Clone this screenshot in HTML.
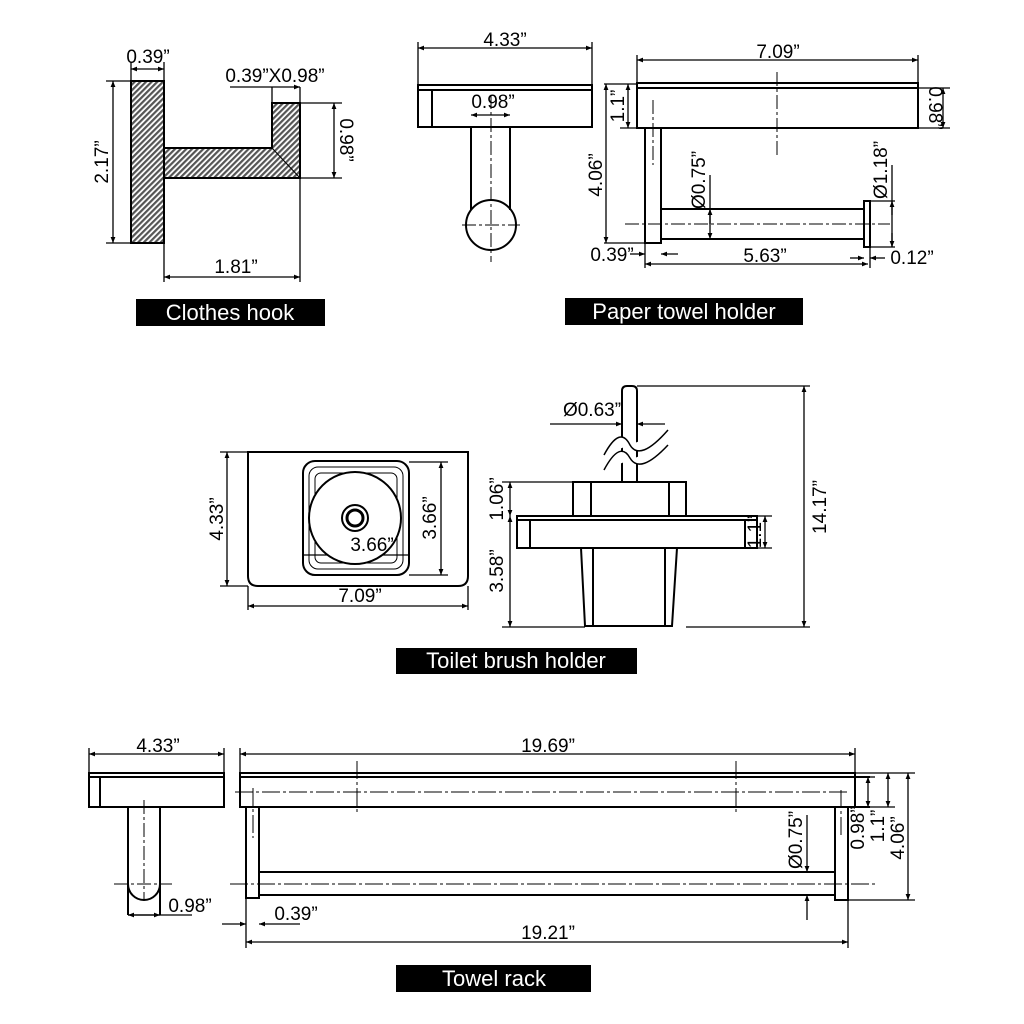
<!DOCTYPE html>
<html><head><meta charset="utf-8"><style>html,body{margin:0;padding:0;background:#fff}svg{display:block}</style></head><body>
<svg width="1024" height="1024" viewBox="0 0 1024 1024" xmlns="http://www.w3.org/2000/svg" font-family="Liberation Sans, Arial, sans-serif">
<defs>
<marker id="a" viewBox="0 0 10 10" refX="10" refY="5" markerWidth="10" markerHeight="6" orient="auto-start-reverse" markerUnits="userSpaceOnUse"><path d="M0,1 L10,5 L0,9 z" fill="#000"/></marker>
<pattern id="h" width="4" height="4" patternUnits="userSpaceOnUse" patternTransform="rotate(45)"><rect width="4" height="4" fill="#fff"/><rect width="2.2" height="4" fill="#555"/></pattern>
</defs>
<g fill="none" stroke="#000" stroke-width="2">
<rect x="131" y="81" width="33" height="162" fill="url(#h)"/>
<path d="M164,148 H272 V103 H300 V178 H164 Z" fill="url(#h)"/>
<path d="M272,148 L300,178" stroke-width="1"/>
<g stroke-width="1.3">
<path d="M131,62 V81 M164,62 V81"/><path d="M131,69 H164" marker-start="url(#a)" marker-end="url(#a)"/>
<path d="M230,87 H300" marker-end="url(#a)"/><path d="M272,87 V103 M300,87 V103"/>
<path d="M300,103 H342 M300,178 H342"/><path d="M334,103 V178" marker-start="url(#a)" marker-end="url(#a)"/>
<path d="M131,81 H106 M131,243 H106"/><path d="M113,81 V243" marker-start="url(#a)" marker-end="url(#a)"/>
<path d="M164,243 V282 M300,178 V282"/><path d="M164,277 H300" marker-start="url(#a)" marker-end="url(#a)"/>
</g>
<rect x="418" y="85" width="174" height="42"/><path d="M418,90 H592 M432,90 V127"/>
<path d="M471,127 V210 M510,127 V210"/><circle cx="491" cy="225" r="25"/>
<path d="M491,95 V262 M462,225 H520" stroke-width="1" stroke-dasharray="14,3,3,3"/>
<g stroke-width="1.3"><path d="M418,42 V85 M592,42 V85"/><path d="M418,48 H592" marker-start="url(#a)" marker-end="url(#a)"/>
<path d="M471,115 H510" marker-start="url(#a)" marker-end="url(#a)"/></g>
<rect x="637" y="83" width="281" height="45"/><path d="M637,88 H918"/>
<path d="M645,128 V243 H661 V128"/>
<rect x="661" y="209" width="203" height="30"/>
<rect x="864" y="201" width="6" height="46"/>
<path d="M777,72 V158 M653,100 V165 M625,224 H890" stroke-width="1" stroke-dasharray="14,3,3,3"/>
<g stroke-width="1.3">
<path d="M637,55 V83 M918,55 V83"/><path d="M637,60 H918" marker-start="url(#a)" marker-end="url(#a)"/>
<path d="M604,84 H637 M620,128 H645"/><path d="M628,84 V128" marker-start="url(#a)" marker-end="url(#a)"/>
<path d="M606,84 V243" marker-start="url(#a)" marker-end="url(#a)"/><path d="M604,243 H645"/>
<path d="M918,88 H950 M918,128 H950"/><path d="M943,88 V128" marker-start="url(#a)" marker-end="url(#a)"/>
<path d="M870,201 H895 M870,247 H895"/><path d="M892,165 V247"/><path d="M892,215 V201" marker-end="url(#a)"/><path d="M892,233 V247" marker-end="url(#a)"/>
<path d="M710,175 V239" marker-end="url(#a)"/><path d="M710,224 V209" marker-end="url(#a)"/>
<path d="M645,243 V268 M870,247 V268"/><path d="M645,264 H868" marker-start="url(#a)" marker-end="url(#a)"/>
<path d="M630,254 H645" marker-end="url(#a)"/><path d="M678,254 H661" marker-end="url(#a)"/>
<path d="M850,258 H864" marker-end="url(#a)"/><path d="M885,258 H870" marker-end="url(#a)"/>
</g>
<path d="M248,452 H468 V576 Q468,586 458,586 H258 Q248,586 248,576 Z"/>
<rect x="303" y="461" width="106" height="114" rx="12"/>
<rect x="309" y="467" width="94" height="102" rx="9" stroke-width="1"/>
<rect x="315" y="473" width="82" height="90" rx="6" stroke-width="1"/>
<path d="M303,555 H409" stroke-width="1.2"/>
<circle cx="355" cy="518" r="46" fill="#fff"/>
<circle cx="355" cy="518" r="13"/><circle cx="355" cy="518" r="8" stroke-width="3"/>
<g stroke-width="1.3">
<path d="M220,452 H248 M220,586 H248"/><path d="M227,452 V586" marker-start="url(#a)" marker-end="url(#a)"/>
<path d="M248,586 V610 M468,586 V610"/><path d="M248,606 H468" marker-start="url(#a)" marker-end="url(#a)"/>
<path d="M409,462 H448 M409,575 H448"/><path d="M441,462 V575" marker-start="url(#a)" marker-end="url(#a)"/>
</g>
<path d="M622,482 V391 Q622,386 627,386 H632 Q637,386 637,391 V482"/>
<rect x="573" y="482" width="113" height="34"/><path d="M591,482 V516 M669,482 V516"/>
<rect x="517" y="516" width="240" height="32"/><path d="M517,520 H757 M530,520 V548 M745,520 V548"/>
<path d="M581,548 L585,626 H672 L677,548 M593,548 V626 M665,548 V626"/>
<path d="M604,455 Q620,425 630,445 Q640,462 668,430 M604,470 Q620,440 630,458 Q640,475 668,445" fill="#fff" stroke-width="1.5"/>
<g stroke-width="1.3">
<path d="M637,386 H810 M686,627 H810 M502,627 H585"/><path d="M804,386 V627" marker-start="url(#a)" marker-end="url(#a)"/>
<path d="M502,482 H573"/><path d="M510,482 V516" marker-start="url(#a)" marker-end="url(#a)"/><path d="M510,516 V627" marker-start="url(#a)" marker-end="url(#a)"/>
<path d="M757,516 H772 M757,548 H772"/><path d="M765,516 V548" marker-start="url(#a)" marker-end="url(#a)"/>
<path d="M550,424 H622" marker-end="url(#a)"/><path d="M665,424 H637" marker-end="url(#a)"/>
</g>
<rect x="89" y="773" width="135" height="34"/><path d="M89,777 H224 M100,777 V807"/>
<path d="M128,807 V915 M160,807 V915 M128,884 A16,16 0 0 0 160,884"/>
<path d="M144,800 V900 M114,884 H172" stroke-width="1" stroke-dasharray="14,3,3,3"/>
<g stroke-width="1.3"><path d="M89,748 V773 M224,748 V773"/><path d="M89,754 H224" marker-start="url(#a)" marker-end="url(#a)"/>
<path d="M128,915 H192"/><path d="M144,915 H128" marker-end="url(#a)"/><path d="M144,915 H160" marker-end="url(#a)"/></g>
<rect x="240" y="773" width="615" height="34"/><path d="M240,777 H870 M855,777 V807 H870"/>
<path d="M246,807 V898 H259 V807 M259,872 H835 M259,895 H835 M835,807 V900 H848 V807"/>
<path d="M235,792 H850 M230,884 H875 M357,761 V812 M736,761 V812 M253,788 V838 M841,790 V838" stroke-width="1" stroke-dasharray="18,3,3,3"/>
<g stroke-width="1.3">
<path d="M240,748 V773 M855,748 V773"/><path d="M240,754 H855" marker-start="url(#a)" marker-end="url(#a)"/>
<path d="M246,898 V948 M848,900 V948"/><path d="M246,942 H848" marker-start="url(#a)" marker-end="url(#a)"/>
<path d="M222,924 H246" marker-end="url(#a)"/><path d="M300,924 H259" marker-end="url(#a)"/>
<path d="M807,815 V872" marker-end="url(#a)"/><path d="M807,920 V895" marker-end="url(#a)"/>
<path d="M870,777 H875"/><path d="M868,777 V807" marker-start="url(#a)" marker-end="url(#a)"/>
<path d="M855,773 H915 M848,900 H915 M855,807 H895"/><path d="M888,773 V807" marker-start="url(#a)" marker-end="url(#a)"/>
<path d="M908,773 V900" marker-start="url(#a)" marker-end="url(#a)"/>
</g>
</g>
<g font-size="19" fill="#000">
<text x="148" y="63" text-anchor="middle">0.39”</text>
<text x="275" y="82" text-anchor="middle">0.39”X0.98”</text>
<text transform="translate(340,140) rotate(90)" text-anchor="middle">0.98”</text>
<text transform="translate(108,162) rotate(-90)" text-anchor="middle">2.17”</text>
<text x="236" y="273" text-anchor="middle">1.81”</text>
<text x="505" y="46" text-anchor="middle">4.33”</text>
<text x="493" y="108" text-anchor="middle">0.98”</text>
<text x="778" y="58" text-anchor="middle">7.09”</text>
<text transform="translate(624,106) rotate(-90)" text-anchor="middle">1.1”</text>
<text transform="translate(602,175) rotate(-90)" text-anchor="middle">4.06”</text>
<text transform="translate(929,108) rotate(90)" text-anchor="middle">0.98”</text>
<text transform="translate(887,170) rotate(-90)" text-anchor="middle">Ø1.18”</text>
<text transform="translate(705,180) rotate(-90)" text-anchor="middle">Ø0.75”</text>
<text x="765" y="262" text-anchor="middle">5.63”</text>
<text x="612" y="261" text-anchor="middle">0.39”</text>
<text x="912" y="264" text-anchor="middle">0.12”</text>
<text transform="translate(223,519) rotate(-90)" text-anchor="middle">4.33”</text>
<text x="360" y="602" text-anchor="middle">7.09”</text>
<text transform="translate(436,518) rotate(-90)" text-anchor="middle">3.66”</text>
<text x="372" y="551" text-anchor="middle">3.66”</text>
<text x="592" y="416" text-anchor="middle">Ø0.63”</text>
<text transform="translate(826,507) rotate(-90)" text-anchor="middle">14.17”</text>
<text transform="translate(503,499) rotate(-90)" text-anchor="middle">1.06”</text>
<text transform="translate(503,571) rotate(-90)" text-anchor="middle">3.58”</text>
<text transform="translate(761,532) rotate(-90)" text-anchor="middle">1.1”</text>
<text x="158" y="752" text-anchor="middle">4.33”</text>
<text x="548" y="752" text-anchor="middle">19.69”</text>
<text x="190" y="912" text-anchor="middle">0.98”</text>
<text x="296" y="920" text-anchor="middle">0.39”</text>
<text x="548" y="939" text-anchor="middle">19.21”</text>
<text transform="translate(802,840) rotate(-90)" text-anchor="middle">Ø0.75”</text>
<text transform="translate(864,828) rotate(-90)" text-anchor="middle">0.98”</text>
<text transform="translate(884,826) rotate(-90)" text-anchor="middle">1.1”</text>
<text transform="translate(904,838) rotate(-90)" text-anchor="middle">4.06”</text>
</g>
<g>
<rect x="136" y="299" width="189" height="27" fill="#000"/><text x="230" y="320" fill="#fff" font-size="22" text-anchor="middle">Clothes hook</text>
<rect x="565" y="298" width="238" height="27" fill="#000"/><text x="684" y="319" fill="#fff" font-size="22" text-anchor="middle">Paper towel holder</text>
<rect x="396" y="648" width="241" height="26" fill="#000"/><text x="516" y="668" fill="#fff" font-size="22" text-anchor="middle">Toilet brush holder</text>
<rect x="396" y="965" width="195" height="27" fill="#000"/><text x="494" y="986" fill="#fff" font-size="22" text-anchor="middle">Towel rack</text>
</g>
</svg>
</body></html>
